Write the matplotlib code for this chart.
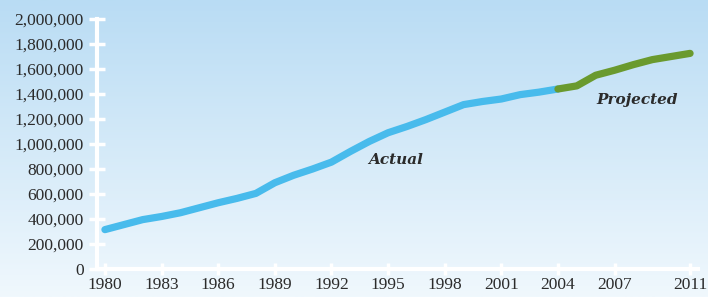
import numpy as np
import matplotlib
matplotlib.use("Agg")
import matplotlib.pyplot as plt
from matplotlib.colors import LinearSegmentedColormap

# data
actual_years = [1980, 1981, 1982, 1983, 1984, 1985, 1986, 1987, 1988, 1989,
                1990, 1991, 1992, 1993, 1994, 1995, 1996, 1997, 1998, 1999,
                2000, 2001, 2002, 2003, 2004]
actual_vals = [315000, 355000, 395000, 420000, 450000, 490000, 530000, 565000,
               605000, 690000, 750000, 800000, 855000, 940000, 1020000, 1090000,
               1140000, 1195000, 1255000, 1315000, 1340000, 1360000, 1395000,
               1415000, 1440000]
proj_years = [2004, 2005, 2006, 2007, 2008, 2009, 2010, 2011]
proj_vals = [1440000, 1465000, 1550000, 1590000, 1635000, 1675000, 1700000, 1725000]

xticks = [1980, 1983, 1986, 1989, 1992, 1995, 1998, 2001, 2004, 2007, 2011]
yticks = list(range(0, 2000001, 200000))

W, H = 708, 297
fig = plt.figure(figsize=(W / 100, H / 100), dpi=100)

# gradient background
bg = fig.add_axes([0, 0, 1, 1])
grad = np.linspace(0, 1, 256).reshape(-1, 1)
cmap = LinearSegmentedColormap.from_list("bg", ["#b9dcf4", "#f0f8fd"])
bg.imshow(grad, aspect="auto", cmap=cmap, extent=[0, 1, 0, 1], origin="upper")
bg.axis("off")

left, right, top, bottom = 97, 698, 19, 269
ax = fig.add_axes([left / W, (H - bottom) / H, (right - left) / W, (bottom - top) / H])
ax.patch.set_alpha(0)

ax.plot(actual_years, actual_vals, color="#48bbec", lw=5.2, solid_capstyle="round",
        solid_joinstyle="round", zorder=3)
ax.plot(proj_years, proj_vals, color="#6a9a2e", lw=5.2, solid_capstyle="round",
        solid_joinstyle="round", zorder=3)

ax.set_xlim(1979.58, 2011.42)
ax.set_ylim(0, 2000000)

for s in ["top", "right"]:
    ax.spines[s].set_visible(False)
for s in ["left", "bottom"]:
    ax.spines[s].set_color("white")
    ax.spines[s].set_linewidth(3)

ax.set_xticks(xticks)
ax.set_yticks(yticks)
ax.set_yticklabels([f"{v:,}" for v in yticks])
ax.tick_params(axis="y", direction="inout", length=11, width=2.5, color="white", pad=4)
ax.tick_params(axis="x", direction="inout", length=8, width=2.5, color="white", pad=2)
for lab in ax.get_xticklabels() + ax.get_yticklabels():
    lab.set_fontfamily("Liberation Serif")
    lab.set_fontsize(12.5)
    lab.set_color("#2b2b2b")

ax.text(1995.4, 870000, "Actual", family="DejaVu Serif", weight="bold", style="italic",
        fontsize=11, color="#2b2b2b", ha="center", va="center")
ax.text(2008.2, 1350000, "Projected", family="DejaVu Serif", weight="bold", style="italic",
        fontsize=11, color="#2b2b2b", ha="center", va="center")

fig.savefig("out.png", dpi=100)
